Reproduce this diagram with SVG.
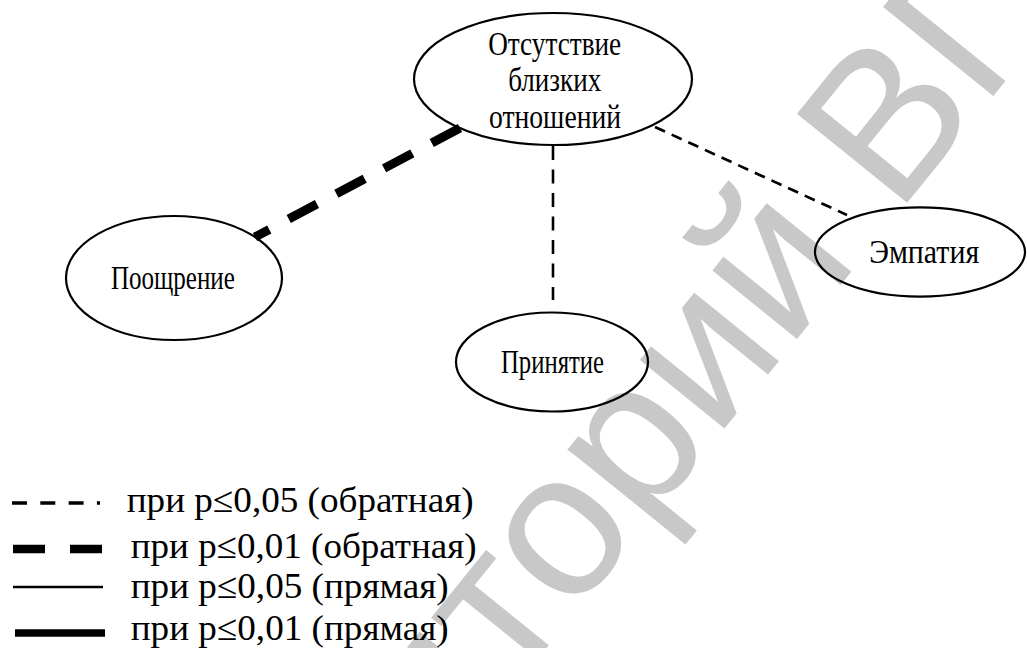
<svg xmlns="http://www.w3.org/2000/svg" width="1027" height="648" viewBox="0 0 1027 648">
<style>
.wm{font-family:"Liberation Sans",Arial,sans-serif;font-size:206px;fill:#c8c8c8}
.node{fill:none;stroke:#000;stroke-width:2.2}
.lbl{font-family:"Liberation Serif","Times New Roman",serif;font-size:34px;fill:#000;text-anchor:middle}
.leg{font-family:"Liberation Serif","Times New Roman",serif;font-size:36px;fill:#000}
.c{stroke:#000;fill:none}
</style>
<rect width="1027" height="648" fill="#fff"/>
<g id="watermark" transform="translate(896.4,216) rotate(-51)">
<text class="wm" x="-57.3" text-anchor="end">Репозиторий</text>
<text class="wm" x="0">ВГУ</text>
</g>
<g id="connectors">
<line class="c" x1="460" y1="128" x2="255" y2="237" stroke-width="9" stroke-dasharray="32 22"/>
<line class="c" x1="553" y1="146" x2="553" y2="300" stroke-width="2.6" stroke-dasharray="14 9.5"/>
<line class="c" x1="655" y1="127" x2="847" y2="215" stroke-width="2.7" stroke-dasharray="11 7.3"/>
</g>
<g id="node-otsutstvie">
<ellipse class="node" cx="553" cy="79" rx="139" ry="66"/>
<text class="lbl" x="554.7" y="54.5" textLength="133" lengthAdjust="spacingAndGlyphs">Отсутствие</text>
<text class="lbl" x="554.7" y="91" textLength="93" lengthAdjust="spacingAndGlyphs">близких</text>
<text class="lbl" x="555" y="128.3" textLength="132" lengthAdjust="spacingAndGlyphs">отношений</text>
</g>
<g id="node-pooshchrenie">
<ellipse class="node" cx="174" cy="278" rx="108" ry="62"/>
<text class="lbl" x="172.9" y="288.5" textLength="124" lengthAdjust="spacingAndGlyphs">Поощрение</text>
</g>
<g id="node-prinyatie">
<ellipse class="node" cx="552" cy="362" rx="96" ry="49.5"/>
<text class="lbl" x="552.5" y="372.5" textLength="103" lengthAdjust="spacingAndGlyphs">Принятие</text>
</g>
<g id="node-empatiya">
<ellipse class="node" cx="920" cy="252" rx="105" ry="44.7"/>
<text class="lbl" x="924.2" y="262.5" textLength="110" lengthAdjust="spacingAndGlyphs">Эмпатия</text>
</g>
<g id="legend">
<line class="c" x1="12" y1="503" x2="100" y2="503" stroke-width="3.3" stroke-dasharray="15 13.3"/>
<line class="c" x1="13" y1="549" x2="102" y2="549" stroke-width="8.5" stroke-dasharray="32 25"/>
<line class="c" x1="13" y1="587" x2="103" y2="587" stroke-width="2.7"/>
<line class="c" x1="15" y1="633" x2="105" y2="633" stroke-width="7.5"/>
<text class="leg" x="126.7" y="512" textLength="347" lengthAdjust="spacingAndGlyphs">при p≤0,05 (обратная)</text>
<text class="leg" x="130.7" y="558" textLength="346" lengthAdjust="spacingAndGlyphs">при p≤0,01 (обратная)</text>
<text class="leg" x="130.7" y="598" textLength="318" lengthAdjust="spacingAndGlyphs">при p≤0,05 (прямая)</text>
<text class="leg" x="130.7" y="640" textLength="318" lengthAdjust="spacingAndGlyphs">при p≤0,01 (прямая)</text>
</g>
</svg>
